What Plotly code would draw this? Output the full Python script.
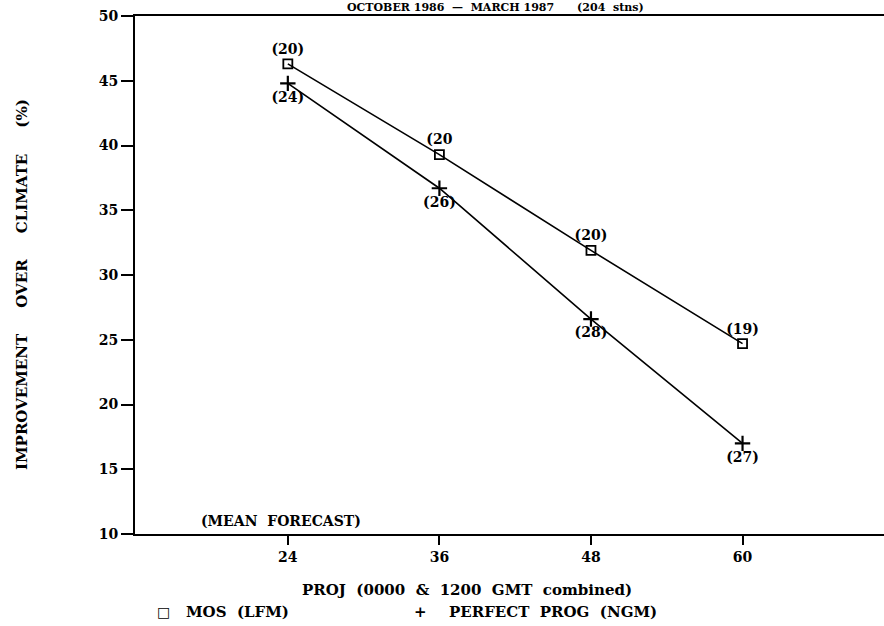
import plotly.graph_objects as go

proj = [24, 36, 48, 60]
mos = [46.3, 39.3, 31.9, 24.7]
pp = [44.8, 36.7, 26.6, 17.0]
mos_n = ["(20)", "(20", "(20)", "(19)"]
pp_n = ["(24)", "(26)", "(28)", "(27)"]
yticks = [10, 15, 20, 25, 30, 35, 40, 45, 50]
xticks = [24, 36, 48, 60]

FONT = "DejaVu Serif"
L, R, T, B = 135, 0, 16, 92
fig = go.Figure()
fig.add_trace(go.Scatter(
    x=proj, y=mos, mode="lines+markers+text", text=mos_n, textposition="top center",
    line=dict(color="black", width=1.6),
    marker=dict(symbol="square-open", size=9, color="black", line=dict(width=1.8)),
    textfont=dict(family=FONT, size=14, color="black", weight="bold"),
    showlegend=False))
fig.add_trace(go.Scatter(
    x=proj, y=pp, mode="lines+markers+text", text=pp_n, textposition="bottom center",
    line=dict(color="black", width=1.6),
    marker=dict(symbol="cross-thin-open", size=11, color="black", line=dict(width=2.2, color="black")),
    textfont=dict(family=FONT, size=14, color="black", weight="bold"),
    showlegend=False))

fig.update_layout(
    width=884, height=626,
    margin=dict(l=L, r=R, t=T, b=B),
    paper_bgcolor="white", plot_bgcolor="white",
    font=dict(family=FONT, size=14, color="black"),
    xaxis=dict(range=[11.9, 71.2], tickvals=xticks, ticktext=[str(v) for v in xticks],
               showgrid=False, zeroline=False, showline=True, linecolor="black", linewidth=2,
               mirror=True, ticks="outside", ticklen=9, tickwidth=2, tickcolor="black",
               tickfont=dict(family=FONT, size=14, weight="bold")),
    yaxis=dict(range=[10, 50], tickvals=yticks, ticktext=[str(v) for v in yticks],
               showgrid=False, zeroline=False, showline=True, linecolor="black", linewidth=2,
               ticks="outside", ticklen=12, tickwidth=2, tickcolor="black",
               tickfont=dict(family=FONT, size=14, weight="bold")),
)

def ann_px(text, px, py, xanchor="center", yanchor="middle", angle=0, size=14):
    w, h = 884 - L - R, 626 - T - B
    fig.add_annotation(text=text, x=(px - L) / w, y=1 - (py - T) / h, xref="paper", yref="paper",
                       xanchor=xanchor, yanchor=yanchor, textangle=angle, showarrow=False,
                       borderpad=0,
                       font=dict(family=FONT, size=size, weight="bold", color="black"))

ann_px("OCTOBER 1986  \u2014  MARCH 1987      (204  stns)", 495, 15, yanchor="bottom", size=11)
ann_px("IMPROVEMENT     OVER     CLIMATE     (%)", 22, 285, angle=-90, size=15)
ann_px("(MEAN  FORECAST)", 200, 521, xanchor="left")
ann_px("PROJ  (0000  &  1200  GMT  combined)", 467, 590, size=15)
ann_px("\u25a1", 163, 612)
ann_px("MOS  (LFM)", 185, 612, xanchor="left", size=15)
ann_px("+", 420, 612, size=15)
ann_px("PERFECT  PROG  (NGM)", 448, 612, xanchor="left", size=15)

fig.write_html("out.html")
